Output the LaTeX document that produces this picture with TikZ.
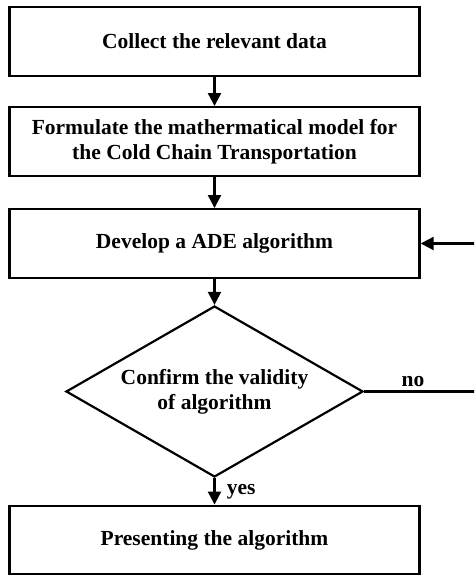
\documentclass[tikz,border=0pt]{standalone}
\usepackage{fontspec}
\setmainfont{Liberation Serif}
\usetikzlibrary{shapes.geometric,arrows.meta}
\begin{document}
\begin{tikzpicture}[x=1pt,y=-1pt,
  txt/.style={font=\fontsize{21.5}{25}\selectfont\bfseries},
  box/.style={txt, draw, line width=2.4pt, minimum width=410pt, minimum height=68.5pt, inner sep=0pt, align=center},
  dec/.style={txt, diamond, draw, line width=2.2pt, minimum width=297pt, minimum height=171pt, aspect=1.737, inner sep=0pt, align=center},
  arr/.style={line width=2.2pt, -{Triangle[length=13pt,width=13pt]}},
  link/.style={line width=2.2pt}]
\useasboundingbox (0,0) rectangle (474,575);
\clip (0,0) rectangle (474,575);
\fill[white] (0,0) rectangle (474,575);
\node[box] (b1) at (214.5,41.5) {Collect the relevant data};
\node[box] (b2) at (214.5,141.5) {Formulate the mathermatical model for\\the Cold Chain Transportation};
\node[box] (b3) at (214.5,243.5) {Develop a ADE algorithm};
\node[dec] (d) at (214.5,391.5) {Confirm the validity\\of algorithm};
\node[box] (b4) at (214.5,540) {Presenting the algorithm};
\coordinate (loop) at (478,0);
\draw[arr] (b1.south) -- (b2.north);
\draw[arr] (b2.south) -- (b3.north);
\draw[arr] (b3.south) -- (d.north);
\draw[arr] (d.south) -- node[txt, right, xshift=8pt]{yes} (b4.north);
\draw[link] (d.east) -- node[txt, above, pos=0.5, xshift=-8pt]{no} (d.east -| loop) -- (b3.east -| loop);
\draw[arr] (b3.east -| loop) -- (b3.east);
\end{tikzpicture}
\end{document}
